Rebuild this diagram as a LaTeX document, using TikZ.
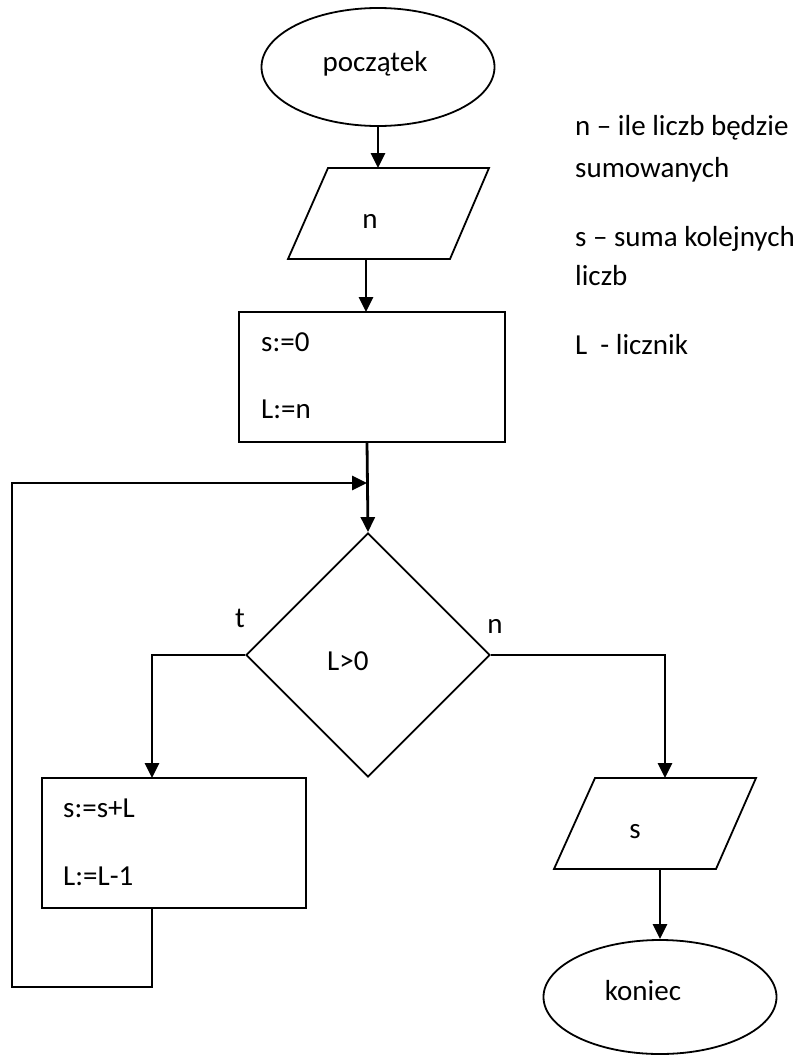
\documentclass[tikz,border=0pt]{standalone}
\usepackage{fontspec}
\setmainfont{Carlito}
\usetikzlibrary{arrows.meta,shapes.geometric}
\begin{document}
\begin{tikzpicture}[x=1pt,y=-1pt,
  shp/.style={draw, line width=1.8pt, inner sep=0pt},
  conn/.style={line width=2.8pt, -{Triangle[length=15pt,width=14pt]}},
  plain/.style={line width=2.8pt},
  txt/.style={font=\fontsize{29}{34}\selectfont, inner sep=0pt},
  lt/.style={txt, anchor=base west},
  ct/.style={txt, anchor=base},
]
\useasboundingbox (0,0) rectangle (802,1055);

% start
\node[shp, ellipse, minimum width=233pt, minimum height=118pt] (start) at (378,67) {};
\node[ct] (tstart) at (375,71) {początek};

% input n
\coordinate (inTL) at (328,168);
\coordinate (inTR) at (489,168);
\coordinate (inBR) at (450,259);
\coordinate (inBL) at (288,259);
\draw[line width=1.8pt] (inTL) -- (inTR) -- (inBR) -- (inBL) -- cycle;
\coordinate (inTop) at (378,168);
\coordinate (inBot) at (366,259);
\node[ct] (tin) at (370,228) {n};

% init box
\node[shp, rectangle, minimum width=266pt, minimum height=130pt] (init) at (372,377) {};
\node[lt] (ts0) at (261,351) {s:=0};
\node[lt] (tl0) at (261,418) {L:=n};
\coordinate (initTop) at (366,312);
\coordinate (initBot) at (367,442);

% decision
\node[shp, diamond, minimum width=244pt, minimum height=244pt] (dec) at (368,655) {};
\node[lt] (tdec) at (327,670) {L>0};
\node[ct] (tt) at (240,627) {t};
\node[ct] (tn) at (495,633) {n};
\coordinate (merge) at (367,483);

% loop body box
\node[shp, rectangle, minimum width=264pt, minimum height=130pt] (body) at (174,843) {};
\node[lt] (tb1) at (63,817) {s:=s+L};
\node[lt] (tb2) at (63,885) {L:=L-1};
\coordinate (bodyTop) at (152,778);
\coordinate (bodyBot) at (152,908);
\coordinate (yesC) at (152,655);
\coordinate (lp1) at (152,987);
\coordinate (lp2) at (12,987);
\coordinate (lp3) at (12,483);

% output s
\coordinate (outTL) at (595,778);
\coordinate (outTR) at (756,778);
\coordinate (outBR) at (716,869);
\coordinate (outBL) at (554,869);
\draw[line width=1.8pt] (outTL) -- (outTR) -- (outBR) -- (outBL) -- cycle;
\node[ct] (tout) at (635,838) {s};
\coordinate (noC) at (665,655);
\coordinate (outTop) at (665,778);
\coordinate (outBot) at (660,869);

% end
\node[shp, ellipse, minimum width=233pt, minimum height=114pt] (stop) at (660,997) {};
\node[ct] (tstop) at (643,1000) {koniec};

% legend
\node[lt] (lg1) at (575,135) {n – ile liczb będzie};
\node[lt] (lg2) at (575,177) {sumowanych};
\node[lt] (lg3) at (575,246) {s – suma kolejnych};
\node[lt] (lg4) at (575,285) {liczb};
\node[lt] (lg5) at (575,354) {L\ \ - licznik};

% connectors
\draw[conn] (start.south) -- (inTop);
\draw[conn] (inBot) -- (initTop);
\draw[conn] (initBot) -- (dec.north);
\draw[conn] (dec.west) -- (yesC) -- (bodyTop);
\draw[conn] (bodyBot) -- (lp1) -- (lp2) -- (lp3) -- (merge);
\draw[conn] (dec.east) -- (noC) -- (outTop);
\draw[conn] (outBot) -- (stop.north);
\end{tikzpicture}
\end{document}
